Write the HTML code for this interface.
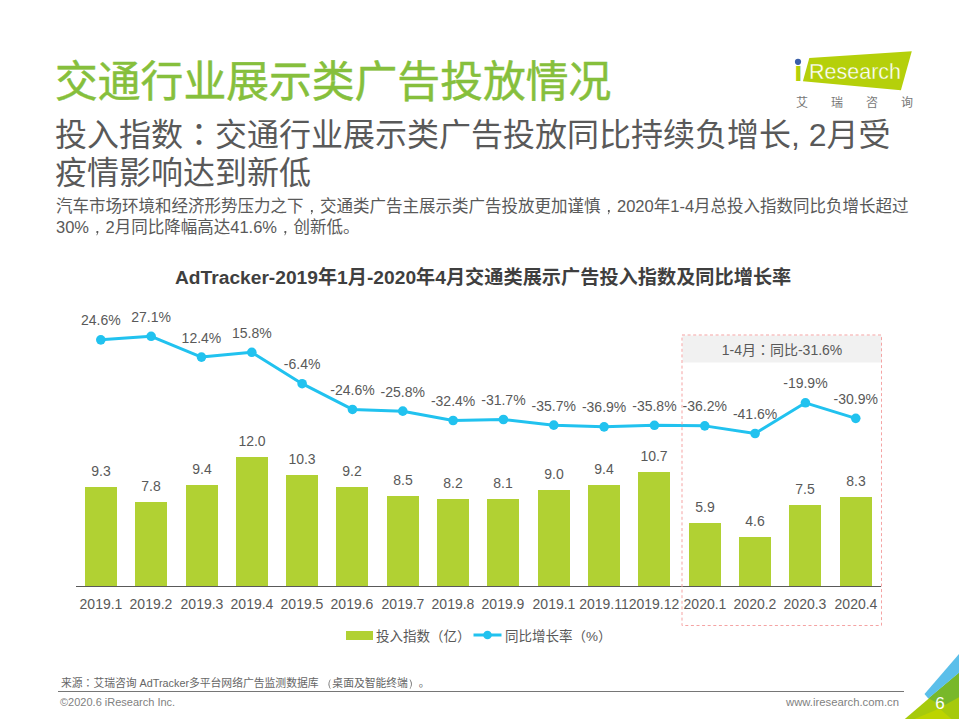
<!DOCTYPE html>
<html><head><meta charset="utf-8"><title>交通行业展示类广告投放情况</title>
<style>
html,body{margin:0;padding:0;background:#fff;}
body{width:959px;height:719px;position:relative;overflow:hidden;font-family:"Liberation Sans","Noto Sans CJK SC",sans-serif;}
.t{position:absolute;white-space:nowrap;margin:0;}
#h1{left:55px;top:56px;font-size:42.8px;line-height:52px;color:#86bf3c;-webkit-text-stroke:0.5px #86bf3c;}
#h2{left:55px;top:117px;font-size:32px;line-height:37.5px;color:#595959;}
#p{left:56px;top:195.5px;font-size:16.5px;line-height:21.8px;color:#595959;}
#ct{left:175px;top:265px;font-size:19.2px;line-height:26px;color:#3f3f3f;font-weight:bold;}
#src{left:61px;top:675.5px;font-size:10.8px;line-height:14px;color:#666666;}
#cp{left:60px;top:694px;font-size:11px;line-height:16px;color:#7f7f7f;}
#url{left:786px;top:694px;font-size:11.3px;line-height:16px;color:#7f7f7f;}
svg{position:absolute;left:0;top:0;}
svg text{font-family:"Liberation Sans","Noto Sans CJK SC",sans-serif;fill:#595959;}
.lb{font-size:14px;text-anchor:middle;}
.lg{font-size:13.5px;}
.pu{font-family:"Noto Sans CJK TC",sans-serif;line-height:0;}
svg .pu{font-family:"Noto Sans CJK TC",sans-serif;}
.pw{font-family:"WenQuanYi Zen Hei",sans-serif;line-height:0;}
svg .pw{font-family:"WenQuanYi Zen Hei",sans-serif;}
.pg{font-size:17px;fill:#fff !important;text-anchor:middle;}
.rs{font-size:21.5px;fill:#fff !important;}
.li{font-size:27px;font-weight:bold;fill:#b5d00a !important;}
.ar{font-size:12px;fill:#777777 !important;}
</style></head><body>
<svg width="959" height="719" viewBox="0 0 959 719">
<rect x="85" y="487" width="32" height="99" fill="#b1d133" shape-rendering="crispEdges"/>
<rect x="135" y="502" width="32" height="84" fill="#b1d133" shape-rendering="crispEdges"/>
<rect x="186" y="485" width="32" height="101" fill="#b1d133" shape-rendering="crispEdges"/>
<rect x="236" y="457" width="32" height="129" fill="#b1d133" shape-rendering="crispEdges"/>
<rect x="286" y="475" width="32" height="111" fill="#b1d133" shape-rendering="crispEdges"/>
<rect x="336" y="487" width="32" height="99" fill="#b1d133" shape-rendering="crispEdges"/>
<rect x="387" y="496" width="32" height="90" fill="#b1d133" shape-rendering="crispEdges"/>
<rect x="437" y="499" width="32" height="87" fill="#b1d133" shape-rendering="crispEdges"/>
<rect x="487" y="499" width="32" height="87" fill="#b1d133" shape-rendering="crispEdges"/>
<rect x="538" y="490" width="32" height="96" fill="#b1d133" shape-rendering="crispEdges"/>
<rect x="588" y="485" width="32" height="101" fill="#b1d133" shape-rendering="crispEdges"/>
<rect x="638" y="472" width="32" height="114" fill="#b1d133" shape-rendering="crispEdges"/>
<rect x="689" y="523" width="32" height="63" fill="#b1d133" shape-rendering="crispEdges"/>
<rect x="739" y="537" width="32" height="49" fill="#b1d133" shape-rendering="crispEdges"/>
<rect x="789" y="505" width="32" height="81" fill="#b1d133" shape-rendering="crispEdges"/>
<rect x="840" y="497" width="32" height="89" fill="#b1d133" shape-rendering="crispEdges"/>
<line x1="76" y1="586.5" x2="881" y2="586.5" stroke="#595959" stroke-width="1"/>
<text x="101.00" y="476.00" class="lb">9.3</text>
<text x="151.00" y="491.00" class="lb">7.8</text>
<text x="202.00" y="474.00" class="lb">9.4</text>
<text x="252.00" y="446.00" class="lb">12.0</text>
<text x="302.00" y="464.00" class="lb">10.3</text>
<text x="352.00" y="476.00" class="lb">9.2</text>
<text x="403.00" y="485.00" class="lb">8.5</text>
<text x="453.00" y="488.00" class="lb">8.2</text>
<text x="503.00" y="488.00" class="lb">8.1</text>
<text x="554.00" y="479.00" class="lb">9.0</text>
<text x="604.00" y="474.00" class="lb">9.4</text>
<text x="654.00" y="461.00" class="lb">10.7</text>
<text x="705.00" y="512.00" class="lb">5.9</text>
<text x="755.00" y="526.00" class="lb">4.6</text>
<text x="805.00" y="494.00" class="lb">7.5</text>
<text x="856.00" y="486.00" class="lb">8.3</text>
<text x="101.00" y="609.00" class="lb">2019.1</text>
<text x="151.00" y="609.00" class="lb">2019.2</text>
<text x="202.00" y="609.00" class="lb">2019.3</text>
<text x="252.00" y="609.00" class="lb">2019.4</text>
<text x="302.00" y="609.00" class="lb">2019.5</text>
<text x="352.00" y="609.00" class="lb">2019.6</text>
<text x="403.00" y="609.00" class="lb">2019.7</text>
<text x="453.00" y="609.00" class="lb">2019.8</text>
<text x="503.00" y="609.00" class="lb">2019.9</text>
<text x="554.00" y="609.00" class="lb">2019.1</text>
<text x="604.00" y="609.00" class="lb">2019.11</text>
<text x="654.00" y="609.00" class="lb">2019.12</text>
<text x="705.00" y="609.00" class="lb">2020.1</text>
<text x="755.00" y="609.00" class="lb">2020.2</text>
<text x="805.00" y="609.00" class="lb">2020.3</text>
<text x="856.00" y="609.00" class="lb">2020.4</text>
<polyline points="100.80,339.84 151.13,336.30 201.46,357.10 251.79,352.29 302.12,383.71 352.45,409.46 402.78,411.16 453.11,420.50 503.44,419.51 553.77,425.17 604.10,426.86 654.43,425.31 704.76,425.87 755.09,433.51 805.42,402.81 855.75,418.37" fill="none" stroke="#21c2ef" stroke-width="3" stroke-linejoin="round"/>
<circle cx="100.80" cy="339.84" r="4.8" fill="#21c2ef"/>
<circle cx="151.13" cy="336.30" r="4.8" fill="#21c2ef"/>
<circle cx="201.46" cy="357.10" r="4.8" fill="#21c2ef"/>
<circle cx="251.79" cy="352.29" r="4.8" fill="#21c2ef"/>
<circle cx="302.12" cy="383.71" r="4.8" fill="#21c2ef"/>
<circle cx="352.45" cy="409.46" r="4.8" fill="#21c2ef"/>
<circle cx="402.78" cy="411.16" r="4.8" fill="#21c2ef"/>
<circle cx="453.11" cy="420.50" r="4.8" fill="#21c2ef"/>
<circle cx="503.44" cy="419.51" r="4.8" fill="#21c2ef"/>
<circle cx="553.77" cy="425.17" r="4.8" fill="#21c2ef"/>
<circle cx="604.10" cy="426.86" r="4.8" fill="#21c2ef"/>
<circle cx="654.43" cy="425.31" r="4.8" fill="#21c2ef"/>
<circle cx="704.76" cy="425.87" r="4.8" fill="#21c2ef"/>
<circle cx="755.09" cy="433.51" r="4.8" fill="#21c2ef"/>
<circle cx="805.42" cy="402.81" r="4.8" fill="#21c2ef"/>
<circle cx="855.75" cy="418.37" r="4.8" fill="#21c2ef"/>
<text x="100.80" y="325.34" class="lb">24.6%</text>
<text x="151.13" y="321.80" class="lb">27.1%</text>
<text x="201.46" y="342.60" class="lb">12.4%</text>
<text x="251.79" y="337.79" class="lb">15.8%</text>
<text x="302.12" y="369.21" class="lb">-6.4%</text>
<text x="352.45" y="394.96" class="lb">-24.6%</text>
<text x="402.78" y="396.66" class="lb">-25.8%</text>
<text x="453.11" y="406.00" class="lb">-32.4%</text>
<text x="503.44" y="405.01" class="lb">-31.7%</text>
<text x="553.77" y="410.67" class="lb">-35.7%</text>
<text x="604.10" y="412.36" class="lb">-36.9%</text>
<text x="654.43" y="410.81" class="lb">-35.8%</text>
<text x="704.76" y="411.37" class="lb">-36.2%</text>
<text x="755.09" y="419.01" class="lb">-41.6%</text>
<text x="805.42" y="388.31" class="lb">-19.9%</text>
<text x="855.75" y="403.87" class="lb">-30.9%</text>
<rect x="682.5" y="335.5" width="199" height="27" fill="#f1f1f1"/>
<rect x="682" y="335" width="199.5" height="290.5" fill="none" stroke="#f5a3a3" stroke-width="1" stroke-dasharray="3 2.6"/>
<text x="782" y="355" class="lb">1-4月<tspan class="pu">：</tspan>同比-31.6%</text>
<rect x="346" y="631" width="27" height="9" fill="#b1d133"/>
<text x="376" y="640.5" class="lg">投入指数（亿）</text>
<line x1="473.5" y1="635" x2="501.5" y2="635" stroke="#21c2ef" stroke-width="3"/>
<circle cx="487.5" cy="635" r="4.3" fill="#21c2ef"/>
<text x="505" y="640.5" class="lg">同比增长率（%）</text>
<line x1="58" y1="691.5" x2="904" y2="691.5" stroke="#767676" stroke-width="1"/>
<polygon points="904.8,719 959,672.8 959,719" fill="#a6ca0c"/>
<polygon points="914.5,719 939.5,708.5 951.5,719" fill="#bcd400"/>
<polygon points="928.3,698.3 959,672.8 959,697.3 943,706" fill="#78b82a"/>
<polygon points="924.5,694 959,654 959,672.8 928.3,698.6" fill="#5bbfea"/>
<text x="940" y="709" class="pg">6</text>
<polygon points="809.3,58.1 911.8,51.2 900.9,90.2 802.9,81.3" fill="#b5d00a"/>
<text x="0" y="0" transform="translate(794.1 81.3) scale(1.15 1)" class="li">ı</text>
<circle cx="798" cy="61.8" r="3.1" fill="#3a5fa8"/>
<text x="809" y="78.7" class="rs" stroke="#b5d00a" stroke-width="0.35">Research</text>
<text x="796" y="106.5" class="ar">艾</text><text x="831" y="106.5" class="ar">瑞</text><text x="866" y="106.5" class="ar">咨</text><text x="901" y="106.5" class="ar">询</text>
</svg>
<div class="t" id="h1">交通行业展示类广告投放情况</div>
<div class="t" id="h2">投入指数<span class="pu">：</span>交通行业展示类广告投放同比持续负增长, 2月受<br>疫情影响达到新低</div>
<div class="t" id="p">汽车市场环境和经济形势压力之下<span class="pw">，</span>交通类广告主展示类广告投放更加谨慎<span class="pw">，</span>2020年1-4月总投入指数同比负增长超过<br>30%<span class="pw">，</span>2月同比降幅高达41.6%<span class="pw">，</span>创新低。</div>
<div class="t" id="ct">AdTracker-2019年1月-2020年4月交通类展示广告投入指数及同比增长率</div>
<div class="t" id="src">来源<span class="pu">：</span>艾瑞咨询 AdTracker多平台网络广告监测数据库 <span class="pw">（</span>桌面及智能终端<span class="pw">）</span>。</div>
<div class="t" id="cp">©2020.6 iResearch Inc.</div>
<div class="t" id="url">www.iresearch.com.cn</div>
</body></html>
